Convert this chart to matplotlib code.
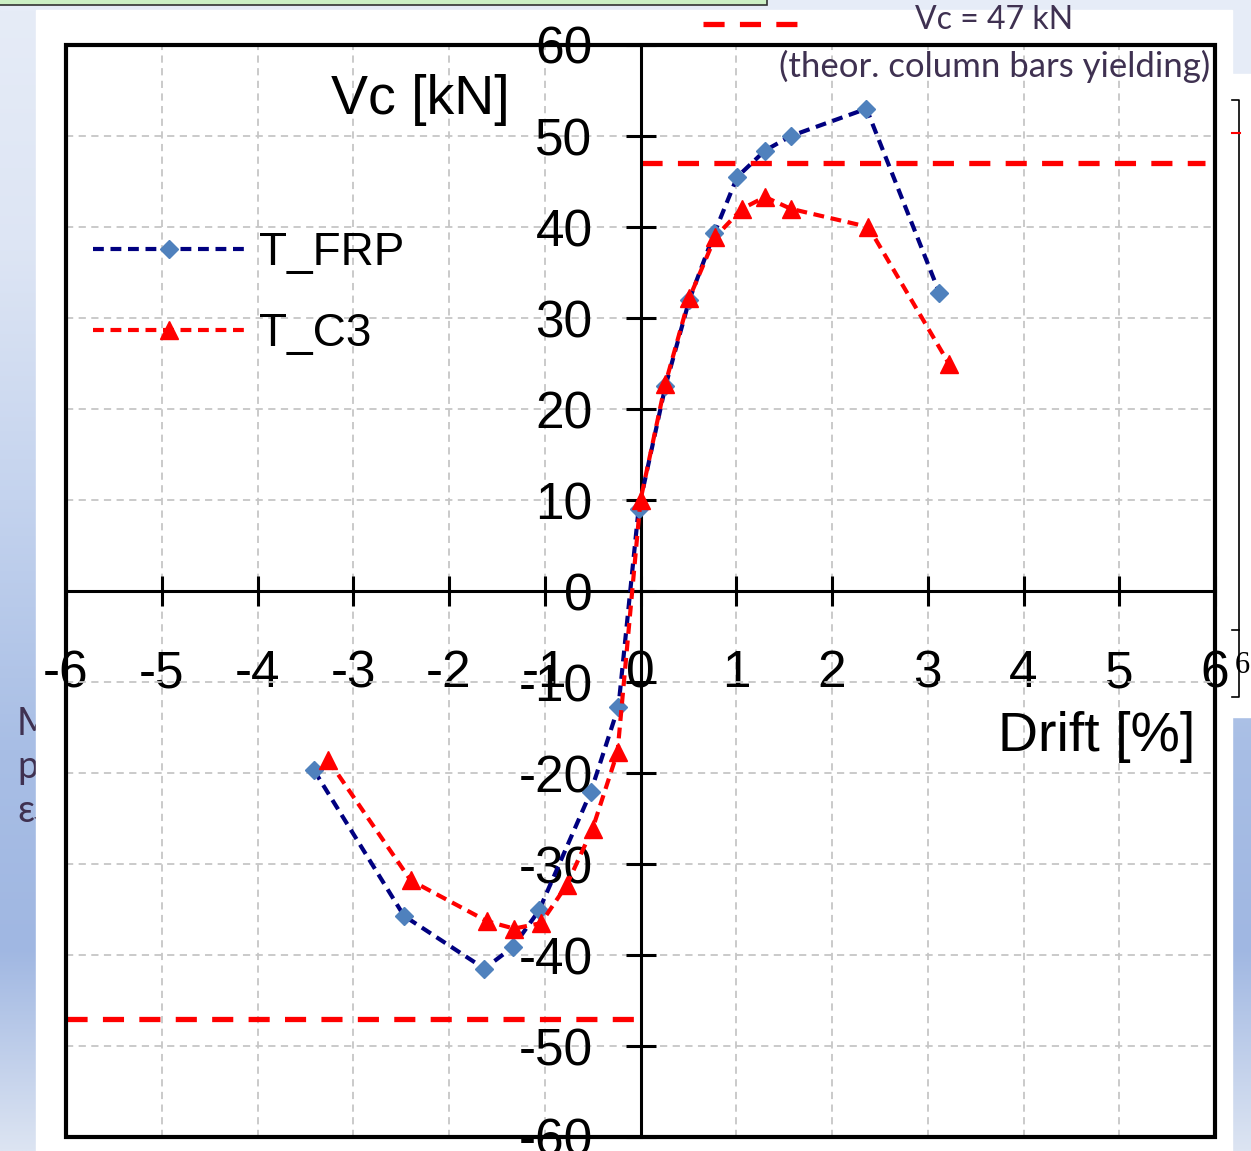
import numpy as np
import matplotlib
matplotlib.use("Agg")
import matplotlib.pyplot as plt
from matplotlib.patches import Rectangle
from matplotlib.colors import to_rgb

# Column shear Vc [kN] versus drift [%] for the two tested specimens
frp_drift = [-3.41, -2.47, -1.63, -1.33, -1.06, -0.52, -0.23, -0.02, 0.26, 0.51,
             0.77, 1.01, 1.30, 1.57, 2.36, 3.12]
frp_vc = [-19.7, -35.7, -41.5, -39.1, -35.1, -22.1, -12.7, 9.0, 22.5, 32.0,
          39.3, 45.5, 48.4, 50.0, 53.0, 32.8]

c3_drift = [-3.26, -2.40, -1.60, -1.32, -1.04, -0.77, -0.50, -0.24, 0.0, 0.26,
            0.51, 0.78, 1.06, 1.30, 1.57, 2.38, 3.22]
c3_vc = [-18.6, -31.8, -36.3, -37.1, -36.5, -32.3, -26.1, -17.7, 10.0, 22.8,
         32.2, 38.9, 42.0, 43.3, 42.0, 40.0, 25.0]

series_labels = ["T_FRP", "T_C3"]

# theoretical shear at yielding of the column bars
vc_yield = 47
yield_pos_span = [0.0, 5.9]
yield_neg_span = [-6.0, 0.0]

x_ticks = list(range(-6, 7))
y_ticks = list(range(-60, 61, 10))

W, H = 1251, 1151
plt.rcParams["font.family"] = ["Liberation Sans", "DejaVu Sans"]
plt.rcParams["axes.unicode_minus"] = False

fig = plt.figure(figsize=(W / 100, H / 100), dpi=100)
fig.patch.set_facecolor("white")

# ---- slide background (pixel coordinates) ----
bg = fig.add_axes([0, 0, 1, 1], zorder=-5)
bg.set_autoscale_on(False)
bg.set_xlim(0, W)
bg.set_ylim(H, 0)
bg.axis("off")
px = bg.transData


def vgrad(axis, x0, x1, y0, y1, stops, z):
    ys = np.linspace(y0, y1, 256)
    pos = [s[0] for s in stops]
    cols = np.array([to_rgb(s[1]) for s in stops])
    img = np.stack([np.interp(ys, pos, cols[:, k]) for k in range(3)], axis=-1)[:, None, :]
    axis.imshow(img, extent=(x0, x1, y1, y0), aspect="auto",
                interpolation="bilinear", zorder=z)


side_stops = [(0, "#e6ecf7"), (250, "#dde5f4"), (500, "#c4d3ee"),
              (750, "#a8bee5"), (950, "#a0b7e2"), (1151, "#dce4f2")]
vgrad(bg, 0, 36, 0, H, side_stops, 0)
vgrad(bg, 1232, W, 0, H, side_stops, 0)
bg.add_patch(Rectangle((0, 0), W, 10, color="#e6ecf7", zorder=0.5))
bg.add_patch(Rectangle((1232, 0), W - 1232, 74, color="#e6ecf7", zorder=0.5))

# clipped body text on the left margin
txt_kw = dict(fontsize=27, color="#3f3151", family=["Lato", "DejaVu Sans"], zorder=1)
bg.text(17, 735, "M", va="baseline", **txt_kw)
bg.text(17, 778, "p", va="baseline", **txt_kw)
bg.text(17, 822, "ε", va="baseline", **txt_kw)
bg.text(33, 830, "f", va="baseline", fontsize=18, color="#3f3151",
        family=["Lato", "DejaVu Sans"], zorder=1)

# white content panels
bg.add_patch(Rectangle((36, 10), 1232 - 36, H - 10, color="white", zorder=2))
bg.add_patch(Rectangle((1232, 74), W - 1232, 717 - 74, color="white", zorder=2))

# green box edge at the very top
bg.add_patch(Rectangle((-2, -2), 769, 6.5, facecolor="#ccf0c4",
                       edgecolor="#333333", lw=1.2, zorder=3))

# bracket on the right margin
bg.plot([1232, 1239, 1239, 1232], [100, 100, 697, 697], color="black", lw=1.2, zorder=3)
bg.plot([1232, 1239], [630, 630], color="black", lw=1.2, zorder=3)
bg.plot([1232, 1240], [133, 133], color="red", lw=1.5, zorder=3)
bg.text(1242, 665, "6", fontsize=22, family="Liberation Serif", ha="center",
        va="center", color="black", zorder=3)

# legend key for the yield line
bg.plot([703, 797], [24, 24], color="red", lw=3.8, ls=(0, (4.0, 2.9)),
        dash_capstyle="butt", zorder=3)

# ---- main chart ----
ax = fig.add_axes([66 / W, 1 - 1137 / H, (1215 - 66) / W, (1137 - 45) / H])
ax.set_xlim(-6, 6)
ax.set_ylim(-60, 60)
ax.set_xticks(x_ticks)
ax.set_yticks(y_ticks)
ax.set_xticklabels([str(v) for v in x_ticks])
ax.set_yticklabels([str(v) for v in y_ticks])

ax.spines["left"].set_position(("data", 0))
ax.spines["bottom"].set_position(("data", 0))
ax.spines["top"].set_visible(False)
ax.spines["right"].set_visible(False)
for s in ("left", "bottom"):
    ax.spines[s].set_linewidth(2.2)
    ax.spines[s].set_zorder(4)

ax.tick_params(direction="inout", length=21, width=2.2, labelsize=37,
               colors="black")
ax.tick_params(axis="x", pad=31.5)
ax.tick_params(axis="y", pad=24)

ax.grid(True, color="#c6c6c6", linestyle=(0, (4, 3)), linewidth=1.3)
ax.set_axisbelow(True)

ax.add_patch(Rectangle((0, 0), 1, 1, transform=ax.transAxes, fill=False,
                       lw=3, ec="black", clip_on=False, zorder=6))

ax.plot(yield_pos_span, [vc_yield, vc_yield], color="red", lw=3.8,
        ls=(0, (4.0, 2.9)), dash_capstyle="butt", zorder=3, clip_on=False)
ax.plot(yield_neg_span, [-vc_yield, -vc_yield], color="red", lw=3.8,
        ls=(0, (4.0, 2.9)), dash_capstyle="butt", zorder=3, clip_on=False)

ax.plot(frp_drift, frp_vc, color="#000080", lw=3, ls=(0, (2.6, 1.6)),
        marker="D", ms=9, mfc="#4f81bd", mec="#4f81bd", label=series_labels[0],
        zorder=5)
ax.plot(c3_drift, c3_vc, color="#ff0000", lw=3, ls=(0, (2.6, 1.6)),
        marker="^", ms=13, mfc="red", mec="red", label=series_labels[1],
        zorder=5)

ax.legend(loc="upper left", bbox_to_anchor=(93 / W, 1 - 231 / H),
          bbox_transform=fig.transFigure, frameon=False, fontsize=33,
          handlelength=3.3, handletextpad=0.33, labelspacing=0.8,
          borderpad=0, borderaxespad=0, numpoints=1)

# axis titles
ax.text(420, 100, "Vc [kN]", transform=px, fontsize=40, ha="center",
        va="center", color="black", zorder=7)
ax.text(1097, 737, "Drift [%]", transform=px, fontsize=40, ha="center",
        va="center", color="black", zorder=7)

# yield line description
fig.text(994, 20, "Vc = 47 kN", transform=px, fontsize=23, color="#3f3151",
         family=["Lato", "DejaVu Sans"], ha="center", va="center", zorder=10)
fig.text(995, 66, "(theor. column bars yielding)", transform=px, fontsize=25,
         color="#3f3151", family=["Lato", "DejaVu Sans"], ha="center",
         va="center", zorder=10)

fig.savefig("out.png", dpi=100)
